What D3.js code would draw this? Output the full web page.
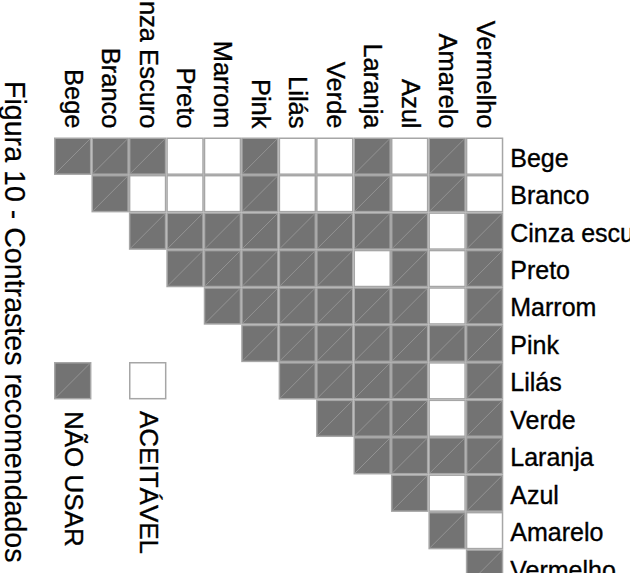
<!DOCTYPE html>
<html>
<head>
<meta charset="utf-8">
<script src="https://cdn.jsdelivr.net/npm/d3@7"></script>
<style>
  html, body { margin: 0; padding: 0; background: #fff; }
  svg { display: block; font-family: "Liberation Sans", Arial, sans-serif; }
</style>
</head>
<body>
<svg id="chart" width="630" height="573"></svg>
<script>
// ---- data ----
const columnLabels = ["Bege", "Branco", "Cinza Escuro", "Preto", "Marrom", "Pink", "Lilás", "Verde", "Laranja", "Azul", "Amarelo", "Vermelho"];
const rowLabels    = ["Bege", "Branco", "Cinza escuro", "Preto", "Marrom", "Pink", "Lilás", "Verde", "Laranja", "Azul", "Amarelo", "Vermelho"];
// 1 = NÃO USAR, 0 = ACEITÁVEL; each row starts at its own diagonal column
const rowBege     = [1, 1, 1, 0, 0, 1, 0, 0, 1, 0, 1, 0];
const rowBranco   = [1, 0, 0, 0, 1, 0, 0, 1, 0, 1, 0];
const rowCinza    = [1, 1, 1, 1, 1, 1, 1, 1, 0, 1];
const rowPreto    = [1, 1, 1, 1, 1, 0, 1, 0, 1];
const rowMarrom   = [1, 1, 1, 1, 1, 1, 0, 1];
const rowPink     = [1, 1, 1, 1, 1, 1, 1];
const rowLilas    = [1, 1, 1, 1, 0, 1];
const rowVerde    = [1, 1, 1, 0, 1];
const rowLaranja  = [1, 1, 1, 1];
const rowAzul     = [1, 0, 1];
const rowAmarelo  = [1, 0];
const rowVermelho = [1];
const rows = [rowBege, rowBranco, rowCinza, rowPreto, rowMarrom, rowPink, rowLilas, rowVerde, rowLaranja, rowAzul, rowAmarelo, rowVermelho];
const legendItems = [{ key: 1, label: "NÃO USAR" }, { key: 0, label: "ACEITÁVEL" }];
const caption = "Figura 10 - Contrastes recomendados";

// ---- layout ----
const cell = 37.44;
const gridLeft = 54, gridTop = 137.5;
const DARK = "#737373", BORDER = "#a6a6a6", DIAG = "#939393";

const x = d3.scaleBand().domain(d3.range(columnLabels.length)).range([gridLeft, gridLeft + cell * columnLabels.length]);
const y = d3.scaleBand().domain(d3.range(rowLabels.length)).range([gridTop, gridTop + cell * rowLabels.length]);

const cells = [];
rows.forEach((r, i) => r.forEach((v, k) => cells.push({ row: i, col: i + k, v })));

const svg = d3.select("#chart");

function drawCell(g, w, h, v) {
  g.append("rect")
    .attr("x", 0.75).attr("y", 0.75)
    .attr("width", w - 1.5).attr("height", h - 1.5)
    .attr("fill", v ? DARK : "#fff")
    .attr("stroke", BORDER).attr("stroke-width", 1.5);
  if (v) {
    g.append("line")
      .attr("x1", 1.5).attr("y1", h - 1.5)
      .attr("x2", w - 1.5).attr("y2", 1.5)
      .attr("stroke", DIAG).attr("stroke-width", 1);
  }
}

const cg = svg.append("g").selectAll("g").data(cells).join("g")
  .attr("transform", d => `translate(${x(d.col)},${y(d.row)})`);
cg.each(function (d) { drawCell(d3.select(this), x.bandwidth(), y.bandwidth(), d.v); });

function heavy(sel) {
  return sel.attr("fill", "#000").attr("stroke", "#000").attr("stroke-width", 0.35);
}

// row labels (right)
heavy(svg.append("g").selectAll("text").data(rowLabels).join("text")
  .attr("x", gridLeft + cell * columnLabels.length + 7)
  .attr("y", (d, i) => y(i) + y.bandwidth() / 2 + 10.5)
  .attr("font-size", 25)
  .text(d => d));

// column labels (top, rotated)
heavy(svg.append("g").selectAll("text").data(columnLabels).join("text")
  .attr("transform", (d, i) => `translate(${x(i) + x.bandwidth() / 2 - 8},128.5) rotate(90)`)
  .attr("text-anchor", "end")
  .attr("font-size", 25.5)
  .text(d => d));

// legend
const legendX = d3.scaleOrdinal().domain(legendItems.map(d => d.key)).range([54, 129]);
const lg = svg.append("g").selectAll("g").data(legendItems).join("g")
  .attr("transform", d => `translate(${legendX(d.key)},362)`);
lg.each(function (d) { drawCell(d3.select(this), cell, cell, d.key); });
heavy(lg.append("text")
  .attr("transform", `translate(${cell / 2 - 8},${49}) rotate(90)`)
  .attr("font-size", 26)
  .text(d => d.label));

// caption
svg.append("text")
  .attr("transform", "translate(5,81) rotate(90)")
  .attr("font-size", 28.6)
  .attr("fill", "#000")
  .attr("stroke", "#000").attr("stroke-width", 0.2)
  .text(caption);
</script>
</body>
</html>
